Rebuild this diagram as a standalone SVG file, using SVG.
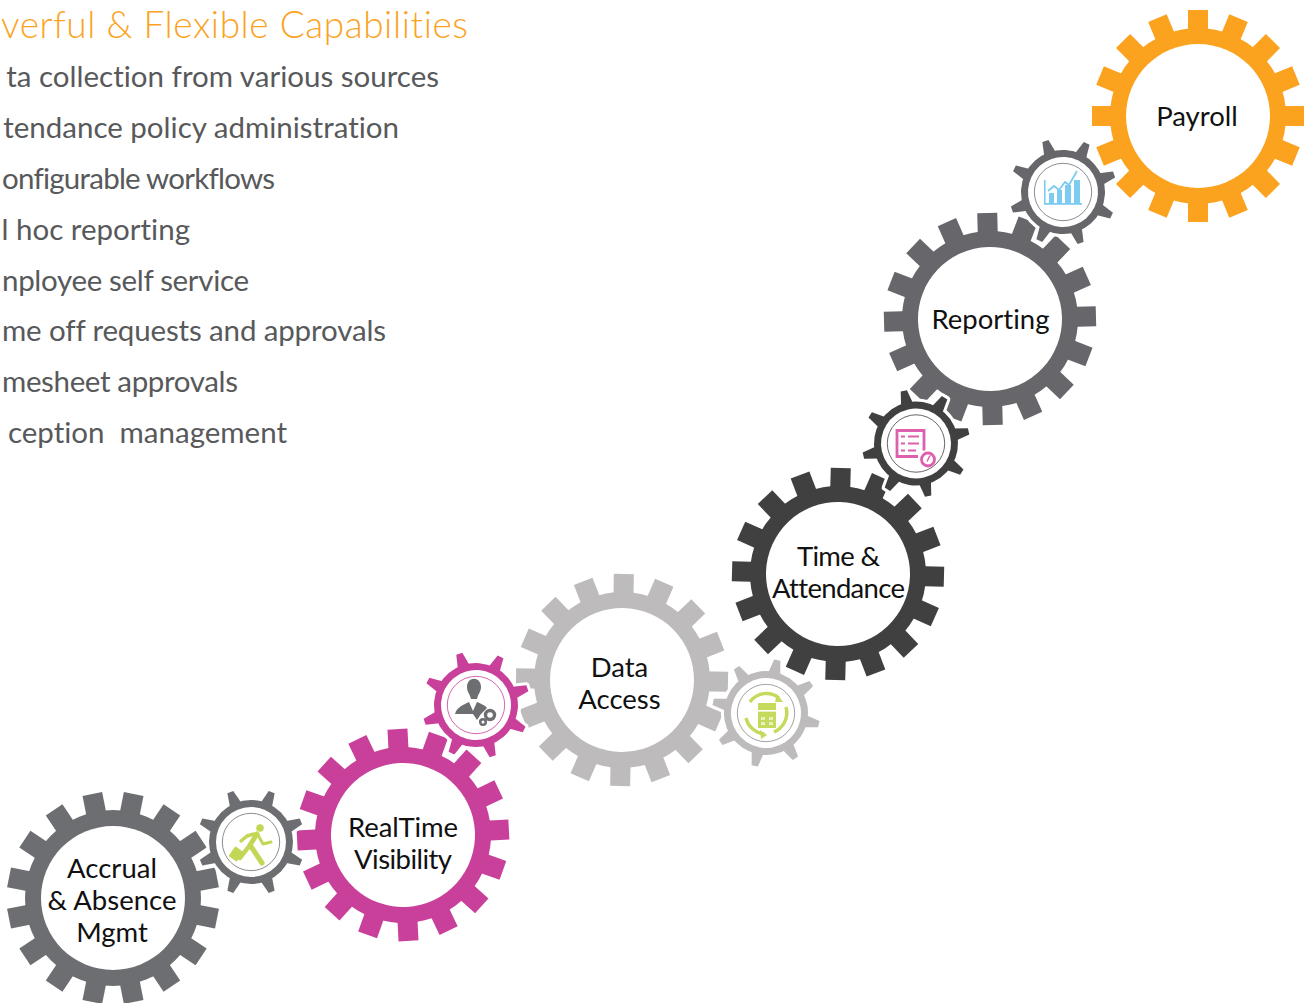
<svg xmlns="http://www.w3.org/2000/svg" xmlns:xlink="http://www.w3.org/1999/xlink" width="1310" height="1003" viewBox="0 0 1310 1003">
<style>
text{font-family:Lato,"Open Sans","Liberation Sans",sans-serif;font-variant-ligatures:none}
.title{font-size:37px;fill:#FBA31F;font-weight:300}
.item{font-size:29.5px;fill:#58595B;text-anchor:end;font-weight:400}
.lbl{font-size:27.5px;fill:#111;text-anchor:middle}
.halo{fill:#fff;stroke:#fff;stroke-width:6;stroke-linejoin:round}
.thin{fill:none;stroke-width:.8}
.orange{fill:#FBA31F}.grey{fill:#6D6E71}.slate{fill:#67676B}.pink{fill:#C9409A}.dark{fill:#404041}.light{fill:#BDBBBB}
</style>
<defs>
<filter id="soft" x="-20%" y="-20%" width="140%" height="140%"><feGaussianBlur stdDeviation="0.45"/></filter>
<rect id="bt" x="-10" y="-106" width="20" height="28"/>
<g id="bigTeeth">
<use href="#bt"/><use href="#bt" transform="rotate(22.5)"/><use href="#bt" transform="rotate(45)"/><use href="#bt" transform="rotate(67.5)"/>
<use href="#bt" transform="rotate(90)"/><use href="#bt" transform="rotate(112.5)"/><use href="#bt" transform="rotate(135)"/><use href="#bt" transform="rotate(157.5)"/>
<use href="#bt" transform="rotate(180)"/><use href="#bt" transform="rotate(202.5)"/><use href="#bt" transform="rotate(225)"/><use href="#bt" transform="rotate(247.5)"/>
<use href="#bt" transform="rotate(270)"/><use href="#bt" transform="rotate(292.5)"/><use href="#bt" transform="rotate(315)"/><use href="#bt" transform="rotate(337.5)"/>
</g>
<g id="bigGear"><use href="#bigTeeth"/><circle r="88"/><circle r="72" style="fill:#fff"/></g>
<polygon id="st" points="-6.5,-38 -3.2,-54 3.2,-54 6.5,-38"/>
<g id="smallTeeth">
<use href="#st"/><use href="#st" transform="rotate(45)"/><use href="#st" transform="rotate(90)"/><use href="#st" transform="rotate(135)"/>
<use href="#st" transform="rotate(180)"/><use href="#st" transform="rotate(225)"/><use href="#st" transform="rotate(270)"/><use href="#st" transform="rotate(315)"/>
</g>
<g id="smallHalo"><use href="#smallTeeth"/><circle r="42"/></g>
<g id="smallGear"><use href="#smallTeeth"/><circle r="42"/><circle r="35" style="fill:#fff"/></g>
</defs>

<g id="heading">
<text class="title" x="1" y="38" textLength="467">verful &amp; Flexible Capabilities</text>
<text class="item" x="439" y="87">ta collection from various sources</text>
<text class="item" x="399" y="138">tendance policy administration</text>
<text class="item" x="275" y="189" textLength="273">onfigurable workflows</text>
<text class="item" x="190" y="240">l hoc reporting</text>
<text class="item" x="249" y="291" textLength="247">nployee self service</text>
<text class="item" x="386" y="341" textLength="384">me off requests and approvals</text>
<text class="item" x="238" y="392" textLength="236">mesheet approvals</text>
<text class="item" x="287" y="443" xml:space="preserve">ception  management</text>
</g>

<g id="connectors"></g>

<g id="gear-accrual"><use href="#bigGear" class="grey" transform="translate(113,898) rotate(11.25)"/>
<text class="lbl" x="112" y="878">Accrual</text><text class="lbl" x="112" y="910">&amp; Absence</text><text class="lbl" x="112" y="942">Mgmt</text></g>
<g id="gear-realtime"><use href="#bigGear" class="pink" transform="translate(403,835) rotate(-3)"/>
<text class="lbl" x="403" y="837" textLength="110">RealTime</text><text class="lbl" x="403" y="869" textLength="98">Visibility</text></g>
<g id="gear-data"><use href="#bigGear" class="light" transform="translate(622,680) rotate(1)"/>
<text class="lbl" x="619.5" y="677">Data</text><text class="lbl" x="619.5" y="709">Access</text></g>
<g id="gear-time"><use href="#bigGear" class="dark" transform="translate(838,574) rotate(1.5)"/>
<text class="lbl" x="838.5" y="566" textLength="83">Time &amp;</text><text class="lbl" x="838.5" y="598" textLength="133">Attendance</text></g>
<g id="gear-reporting"><use href="#bigGear" class="slate" transform="translate(990,319) rotate(-1.5)"/>
<text class="lbl" x="990.5" y="329">Reporting</text></g>
<g id="gear-payroll"><use href="#bigGear" class="orange" transform="translate(1198,116)"/>
<text class="lbl" x="1197" y="126">Payroll</text></g>

<g id="small-walk" transform="translate(251,842)">
<use href="#smallHalo" class="halo" transform="rotate(22.5)"/><use href="#smallGear" class="grey" transform="rotate(22.5)"/>
<circle r="28.7" class="thin" stroke="#6D6E71"/>
<g filter="url(#soft)">
<g fill="none" stroke="#C4D654" stroke-linecap="round" stroke-linejoin="round">
<path d="M6-8 L-1 3 L11 21" stroke-width="5"/><path d="M-1 3 L-11 16" stroke-width="4.5"/><path d="M7-7 L12 2 L20 0" stroke-width="3"/><path d="M3-8 L-4-6 L-10-1" stroke-width="3.5"/>
</g>
<circle cx="9" cy="-14" r="3.8" fill="#C4D654"/>
<rect x="-20" y="6" width="10" height="12" rx="1" transform="rotate(35 -15 12)" fill="#C4D654"/>
</g>
</g>

<g id="small-person" transform="translate(476,705)">
<use href="#smallHalo" class="halo" transform="rotate(27)"/><use href="#smallGear" class="pink" transform="rotate(27)"/>
<circle r="28.7" class="thin" stroke="#C9409A"/>
<g fill="#6D6E71" filter="url(#soft)">
<path d="M-9-18 C-9-29 5-29 5-18 C5-13 2-11 1-6 L-5-6 C-6-11 -9-13 -9-18Z"/>
<path d="M-21 9 C-19 2 -13 0 -7-3 L-3 6 L1-3 C5-1 9 0 11 3 L5 9 L1 15 L-3 9Z"/>
<circle cx="14" cy="10" r="4.5" fill="none" stroke="#6D6E71" stroke-width="3.4"/>
<circle cx="7" cy="17" r="2.8" fill="none" stroke="#6D6E71" stroke-width="2.6"/>
</g>
</g>

<g id="small-doc" transform="translate(766,713)">
<use href="#smallHalo" class="halo" transform="rotate(12)"/><use href="#smallGear" class="light" transform="rotate(12)"/>
<circle r="28.7" class="thin" stroke="#8a8a8a"/>
<g filter="url(#soft)">
<g fill="none" stroke="#C3DA5C" stroke-width="3.4">
<path d="M-16-11 A20 20 0 0 1 13-15"/><path d="M20-6 A21 21 0 0 1 8 19"/><path d="M-2 21 A21 21 0 0 1-20 5"/>
</g>
<polygon points="11,-19 17,-11 9,-11" fill="#C3DA5C"/>
<polygon points="-6,17 1,22 -5,26" fill="#C3DA5C"/>
<rect x="-8" y="-10" width="18" height="25" fill="#C3DA5C"/>
<g fill="#fff"><rect x="-8" y="-3" width="18" height="1.6"/><rect x="-5" y="4" width="4" height="3" opacity=".6"/><rect x="3" y="4" width="4" height="3" opacity=".6"/><rect x="-5" y="9" width="4" height="3" opacity=".6"/><rect x="3" y="9" width="4" height="3" opacity=".6"/></g>
</g>
</g>

<g id="small-list" transform="translate(916,443.5)">
<use href="#smallHalo" class="halo" transform="rotate(32)"/><use href="#smallGear" class="dark" transform="rotate(32)"/>
<circle r="28.7" class="thin" stroke="#404041"/>
<g fill="none" stroke="#DD5FAE" filter="url(#soft)">
<path d="M8 7 V-13 H-19 V13 H2" stroke-width="2.8"/>
<path d="M-8-7 H3 M-8 0 H3 M-8 7 H0 M-15-7 H-11 M-15 0 H-11 M-15 7 H-11" stroke-width="2.2"/>
<circle cx="12" cy="16" r="6.5" stroke-width="2.8"/>
<path d="M14 12 L11 18" stroke-width="1.6"/>
</g>
</g>

<g id="small-chart" transform="translate(1063,192)">
<use href="#smallHalo" class="halo" transform="rotate(26)"/><use href="#smallGear" class="slate" transform="rotate(26)"/>
<circle r="28.7" class="thin" stroke="#6D6E71"/>
<g filter="url(#soft)">
<g fill="#7CCBF0">
<rect x="-19" y="11" width="38" height="1.8"/><rect x="-19" y="-12" width="1.6" height="24"/>
<rect x="-14" y="1" width="5" height="11"/><rect x="-6" y="-2" width="5" height="14"/><rect x="2" y="-7" width="6" height="19"/><rect x="11" y="-12" width="6" height="24"/>
</g>
<path d="M-15-1 L-9-6 L-4-2 L2-10 L6-7 L14-21" fill="none" stroke="#7CCBF0" stroke-width="1.8"/>
</g>
</g>
</svg>
